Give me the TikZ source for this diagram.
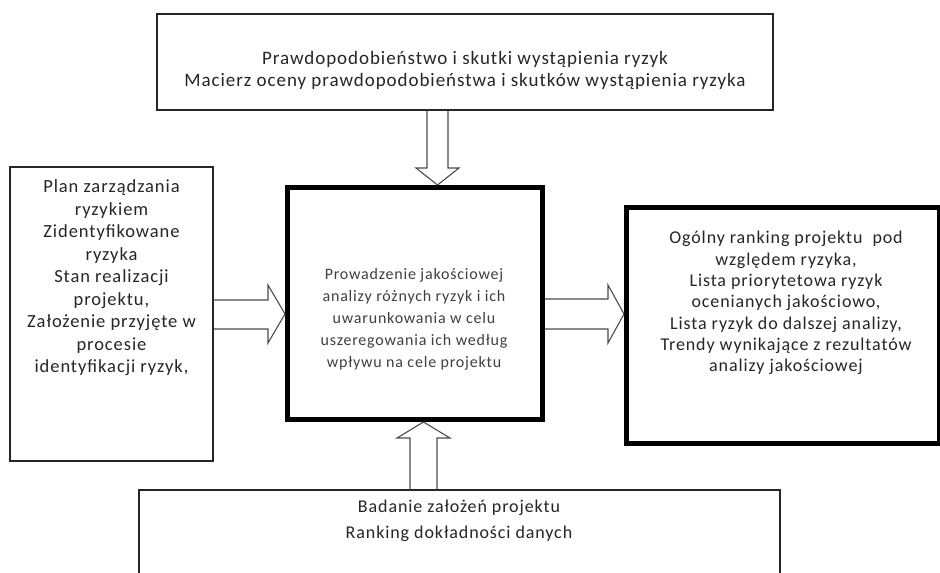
\documentclass[tikz,border=0pt]{standalone}
\usepackage{fontspec}
\setmainfont[LetterSpace=5]{Carlito}
\usetikzlibrary{calc}

\begin{document}
\begin{tikzpicture}[x=1pt,y=-1pt,
  box/.style={draw=black!85, line width=1.1pt, inner sep=0pt},
  heavybox/.style={draw=black, line width=5pt, inner sep=0pt},
  txt/.style={inner sep=0pt, align=center, text=black!85, font=\fontsize{18}{22}\selectfont},
  midtxt/.style={inner sep=0pt, align=center, text=black!75, font=\fontsize{16}{22}\selectfont},
  blk/.style={draw=black!70, line width=1.1pt, line join=miter},
]
\useasboundingbox (0,0) rectangle (940,573);
\clip (0,0) rectangle (940,573);
\fill[white] (0,0) rectangle (940,573);

% frames
\node[box, minimum width=616pt, minimum height=96pt] (top) at (465,62) {};
\node[box, minimum width=203pt, minimum height=294pt] (left) at (111.5,314) {};
\node[heavybox, minimum width=255pt, minimum height=232pt] (ctr) at (415,303.5) {};
\node[heavybox, minimum width=313pt, minimum height=236pt] (rgt) at (783,325.5) {};
\node[box, minimum width=641pt, minimum height=130pt] (bot) at (459.5,555) {};

% texts
\node[txt, font=\fontsize{19}{22}\selectfont] (toptxt) at (465,70) {Prawdopodobieństwo i skutki wystąpienia ryzyk\\Macierz oceny prawdopodobieństwa i skutków wystąpienia ryzyka};
\node[txt, font=\fontsize{18.5}{22.5}\selectfont] (lefttxt) at (111.5,278) {Plan zarządzania\\ryzykiem\\Zidentyfikowane\\ryzyka\\Stan realizacji\\projektu,\\Założenie przyjęte w\\procesie\\identyfikacji ryzyk,};
\node[midtxt] (ctrtxt) at (414,319) {Prowadzenie jakościowej\\analizy różnych ryzyk i ich\\uwarunkowania w celu\\uszeregowania ich według\\wpływu na cele projektu};
\node[txt, font=\fontsize{18}{21.3}\selectfont] (rgttxt) at (786,303) {Ogólny ranking projektu~ pod\\względem ryzyka,\\Lista priorytetowa ryzyk\\ocenianych jakościowo,\\Lista ryzyk do dalszej analizy,\\Trendy wynikające z rezultatów\\analizy jakościowej};
\node[txt, font=\fontsize{18}{26}\selectfont] (bottxt) at (459,521) {Badanie założeń projektu\\Ranking dokładności danych};

% block arrows between frames
\draw[blk] (427,0 |- top.south) -- (427,168) -- (416,168) -- (437.5,0 |- ctr.north)
  -- (459,168) -- (448,168) -- (448,0 |- top.south);
\draw[blk] (left.east |- 0,300) -- (268,300) -- (268,285) -- (ctr.west |- 0,314)
  -- (268,343) -- (268,329) -- (left.east |- 0,329);
\draw[blk] (ctr.east |- 0,299) -- (608,299) -- (608,285) -- (rgt.west |- 0,314)
  -- (608,343) -- (608,329) -- (ctr.east |- 0,329);
\draw[blk] (410,0 |- bot.north) -- (410,438) -- (397,438) -- (423.5,0 |- ctr.south)
  -- (450,438) -- (437,438) -- (437,0 |- bot.north);
\end{tikzpicture}
\end{document}
